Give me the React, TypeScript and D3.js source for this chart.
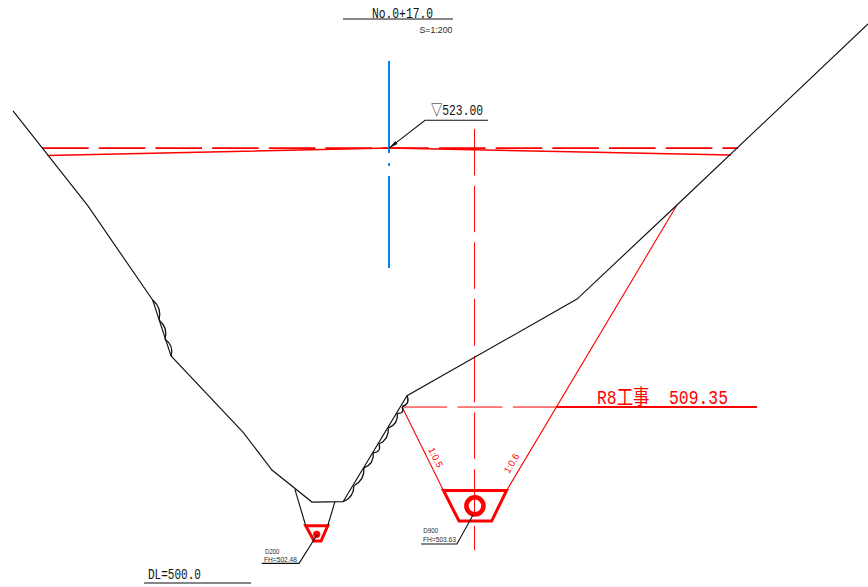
import React from "react";
import * as d3 from "d3";

type Pt = [number, number]; // [offset from centre in m, elevation in m]

const groundLine: Pt[] = [
  [-19.82, 524.96], [-15.87, 519.95], [-12.46, 514.99], [-11.49, 512.04], [-7.7, 508.03], [-6.17, 506.03],
  [-4.06, 504.34], [-2.42, 504.36], [0.95, 509.95], [9.91, 515.04], [15.18, 520.0], [25.25, 529.54],
];
const leftRockKnots: Pt[] = [[-12.46, 514.99], [-12.12, 513.94], [-11.81, 512.92], [-11.49, 512.04]];
const rightRockKnots: Pt[] = [
  [0.95, 509.95], [0.69, 509.37], [0.44, 509.02], [-0.04, 508.24], [-0.53, 507.4], [-0.83, 506.93],
  [-1.32, 506.14], [-1.85, 505.2], [-2.42, 504.36],
];
const damLevel: Pt[] = [[-18.29, 523], [18.4, 523]];
const crestLine: Pt[] = [[-18.0, 522.61], [0, 523], [18.03, 522.63]];
const centreAxis: Pt[] = [[0, 527.59], [0, 516.68]];
const channelAxis: Pt[] = [[4.51, 524.01], [4.51, 501.81]];
const r8Dashed: Pt[] = [[0.69, 509.35], [8.8, 509.35]];
const r8Solid: Pt[] = [[8.8, 509.35], [19.4, 509.35]];
const slopeLeft: Pt[] = [[0.69, 509.35], [2.87, 504.95]];
const slopeRight: Pt[] = [[15.18, 520.0], [6.2, 504.95]];
const mainBox: Pt[] = [[2.87, 504.95], [6.2, 504.95], [5.41, 503.34], [3.69, 503.34]];
const mainPipe = { at: [4.53, 504.1] as Pt, radius: 0.45 };
const smallWalls: Pt[][] = [
  [[-4.96, 505.01], [-4.39, 503.09]],
  [[-2.85, 504.36], [-3.23, 503.09]],
];
const smallBox: Pt[] = [[-4.39, 503.09], [-3.23, 503.09], [-3.58, 502.29], [-3.95, 502.29]];
const smallPipe = { at: [-3.81, 502.64] as Pt, radius: 0.19 };
const levelLeader: Pt[] = [[0.02, 523.01], [1.9, 524.47], [5.22, 524.47]];
const d200Leader: Pt[] = [[-3.8, 502.6], [-4.74, 501.11], [-6.71, 501.11]];
const d900Leader: Pt[] = [[4.43, 503.66], [3.58, 502.13], [1.69, 502.13]];

const titleText = "No.0+17.0";
const scaleText = "S=1:200";
const levelText = "▽523.00";
const datumText = "DL=500.0";
const r8Text = "R8工事  509.35";
const slopeLabels = ["1:0.5", "1:0.6"];
const d200Labels = ["D200", "FH=502.48"];
const d900Labels = ["D900", "FH=503.63"];

const W = 868;
const H = 587;
const FONT = "'Liberation Mono','Noto Sans CJK JP',monospace";
const SMALL_FONT = "'Liberation Sans',sans-serif";
const RED = "#ff0000";
const BLACK = "#111111";
const GREY = "#2a2a2a";

const x = d3.scaleLinear().domain([-20.506, 25.25]).range([0, 868]);
const y = d3.scaleLinear().domain([500, 530.807]).range([584.4, 0]);
const line = d3.line<Pt>().x((d) => x(d[0])).y((d) => y(d[1]));

function scallops(knots: Pt[], bulge: number): string {
  const p = d3.path();
  for (let i = 0; i < knots.length - 1; i++) {
    const x0 = x(knots[i][0]);
    const y0 = y(knots[i][1]);
    const x1 = x(knots[i + 1][0]);
    const y1 = y(knots[i + 1][1]);
    const dx = x1 - x0;
    const dy = y1 - y0;
    const len = Math.hypot(dx, dy) || 1;
    p.moveTo(x0, y0);
    p.quadraticCurveTo((x0 + x1) / 2 + (dy / len) * bulge, (y0 + y1) / 2 - (dx / len) * bulge, x1, y1);
  }
  return p.toString();
}

function T(props: { x: number; y: number; w: number; size: number; fill?: string; children: string; rot?: number; font?: string }) {
  const { x: tx, y: ty, w, size, fill = BLACK, children, rot, font = FONT } = props;
  return (
    <text
      x={tx}
      y={ty}
      fontSize={size}
      fontFamily={font}
      fill={fill}
      textLength={w}
      lengthAdjust="spacingAndGlyphs"
      transform={rot ? `rotate(${rot} ${tx} ${ty})` : undefined}
    >
      {children}
    </text>
  );
}

export default function App() {
  const tip = levelLeader[0];
  const tx = x(tip[0]);
  const ty = y(tip[1]);
  const a = Math.atan2(y(levelLeader[1][1]) - ty, x(levelLeader[1][0]) - tx);
  const head = [
    [tx, ty],
    [tx + 9 * Math.cos(a - 0.2), ty + 9 * Math.sin(a - 0.2)],
    [tx + 9 * Math.cos(a + 0.2), ty + 9 * Math.sin(a + 0.2)],
  ]
    .map((q) => q.join(","))
    .join(" ");

  return (
    <svg width={W} height={H} viewBox={`0 0 ${W} ${H}`} style={{ position: "absolute", left: 0, top: 0, background: "#fff" }}>
      <g fill="none">
        {/* red design lines */}
        <path d={line(damLevel)!} stroke={RED} strokeWidth={1.6} strokeDasharray="46.6 10.1" />
        <path d={line(crestLine)!} stroke={RED} strokeWidth={1.5} />
        <path d={line(channelAxis)!} stroke={RED} strokeWidth={1} strokeDasharray="46.6 10.1" />
        <path d={line(r8Dashed)!} stroke={RED} strokeWidth={1} strokeDasharray="45 10.4" />
        <path d={line(r8Solid)!} stroke={RED} strokeWidth={2} />
        <path d={line(slopeLeft)!} stroke={RED} strokeWidth={1.1} />
        <path d={line(slopeRight)!} stroke={RED} strokeWidth={1.1} />
        <path d={line(mainBox)! + "Z"} stroke={RED} strokeWidth={3} />
        <circle cx={x(mainPipe.at[0])} cy={y(mainPipe.at[1]) - 0.8} r={x(mainPipe.radius) - x(0)} stroke={RED} strokeWidth={4.6} />
        <path d={line(smallBox)! + "Z"} stroke={RED} strokeWidth={3} />
        <circle cx={x(smallPipe.at[0])} cy={y(smallPipe.at[1])} r={x(smallPipe.radius) - x(0)} fill={RED} />

        {/* blue centre axis */}
        <path d={line(centreAxis)!} stroke="#0a7ff0" strokeWidth={2} strokeDasharray="92 10.3 2.7 10" />

        {/* ground */}
        <path d={line(groundLine)!} stroke={BLACK} strokeWidth={1.15} />
        <path d={scallops(leftRockKnots, 6.5)} stroke={BLACK} strokeWidth={1.3} />
        <path d={scallops(rightRockKnots, 6.5)} stroke={BLACK} strokeWidth={1.3} />
        {smallWalls.map((w, i) => (
          <path key={i} d={line(w)!} stroke={BLACK} strokeWidth={1.15} />
        ))}

        {/* leaders */}
        <path d={line(levelLeader)!} stroke={BLACK} strokeWidth={1.1} />
        <path d={line(d200Leader)!} stroke={BLACK} strokeWidth={1.1} />
        <path d={line(d900Leader)!} stroke={BLACK} strokeWidth={1.1} />
      </g>
      <polygon points={head} fill={BLACK} />

      {/* sheet underlines */}
      <line x1={343} x2={453} y1={19} y2={19} stroke={BLACK} strokeWidth={1.1} />
      <line x1={144} x2={251} y1={583} y2={583} stroke={BLACK} strokeWidth={1.1} />

      <T x={372} y={18.3} w={61} size={15}>{titleText}</T>
      <T x={419.5} y={33} w={33} size={8.5} fill={GREY} font={SMALL_FONT}>{scaleText}</T>
      <T x={431} y={115.3} w={52} size={15}>{levelText}</T>
      <T x={148} y={579} w={53} size={15}>{datumText}</T>
      <text
        x={597}
        y={404}
        fontSize={21}
        fontFamily={FONT}
        fill={RED}
        textLength={131}
        lengthAdjust="spacingAndGlyphs"
        style={{ whiteSpace: "pre" }}
      >
        {r8Text}
      </text>
      <T x={428} y={449.5} w={21} size={9.5} fill={RED} rot={63.6} font={SMALL_FONT}>{slopeLabels[0]}</T>
      <T x={509} y={474} w={21} size={9.5} fill={RED} rot={-59} font={SMALL_FONT}>{slopeLabels[1]}</T>
      <T x={265} y={554} w={14.5} size={7.5} fill={GREY} font={SMALL_FONT}>{d200Labels[0]}</T>
      <T x={264} y={561.7} w={33} size={7.5} fill={GREY} font={SMALL_FONT}>{d200Labels[1]}</T>
      <T x={423.3} y={532.7} w={15} size={7.5} fill={GREY} font={SMALL_FONT}>{d900Labels[0]}</T>
      <T x={423} y={541.7} w={33} size={7.5} fill={GREY} font={SMALL_FONT}>{d900Labels[1]}</T>
    </svg>
  );
}
